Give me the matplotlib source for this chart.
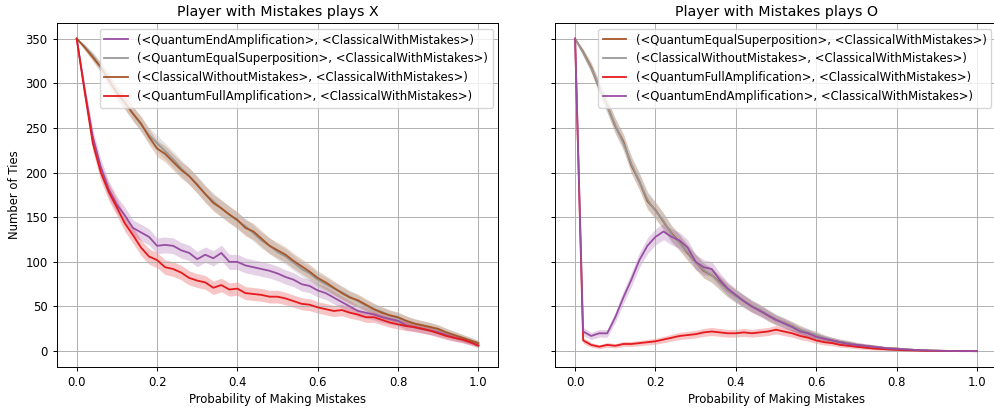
import numpy as np
import matplotlib
matplotlib.use("Agg")
import matplotlib.pyplot as plt

# ---------------- data ----------------
prob = [round(i * 0.02, 2) for i in range(51)]

# Panel 1: player with mistakes plays X
x_end_amp = [350, 292, 240, 206, 181, 164, 152, 138, 133, 128, 118, 119, 118, 113, 110, 103, 108, 104, 110, 100,
             100, 96, 94, 92, 90, 87, 83, 80, 75, 73, 68, 65, 60, 55, 50, 45, 43, 41, 38, 36,
             34, 29, 27, 25, 23, 21, 18, 15, 13, 10, 7]
x_equal_sup = [350, 341, 331, 318, 305, 290, 279, 266, 254, 242, 233, 224, 215, 205, 196, 187, 176, 168, 160, 153,
               146, 140, 132, 124, 118, 111, 106, 99, 92, 87, 80, 75, 70, 66, 61, 56, 51, 47, 44, 40,
               37, 34, 31, 29, 27, 24, 21, 18, 15, 12, 9]
x_classical = [350, 340, 329, 318, 303, 289, 278, 266, 255, 240, 227, 221, 212, 203, 196, 186, 176, 166, 160, 153,
               147, 138, 134, 126, 118, 113, 108, 101, 95, 89, 82, 77, 71, 65, 60, 57, 52, 47, 43, 40,
               38, 34, 31, 29, 27, 25, 21, 18, 15, 12, 9]
x_full_amp = [350, 290, 233, 200, 178, 161, 143, 130, 116, 106, 102, 94, 92, 88, 82, 79, 77, 71, 74, 69,
              70, 65, 64, 63, 61, 61, 59, 56, 53, 52, 49, 47, 45, 46, 43, 41, 38, 38, 35, 32,
              30, 28, 27, 25, 23, 20, 17, 15, 13, 10, 6]

# Panel 2: player with mistakes plays O
o_equal_sup = [350, 335, 318, 295, 275, 252, 235, 208, 190, 168, 158, 145, 132, 122, 110, 100, 90, 85, 77, 68,
               62, 56, 50, 46, 40, 35, 32, 28, 24, 20, 18, 14, 12, 10, 9, 7, 6, 5, 4, 3,
               3, 2, 1.5, 1, 0.7, 0.5, 0.3, 0.2, 0.1, 0.05, 0]
o_classical = [350, 334, 317, 296, 274, 253, 233, 210, 190, 170, 157, 146, 131, 121, 111, 100, 91, 85, 76, 68,
               61, 56, 51, 46, 41, 36, 32, 28, 24, 21, 18, 15, 12, 10, 9, 7, 6, 5, 4, 3,
               2.5, 2, 1.5, 1, 0.7, 0.5, 0.3, 0.2, 0.1, 0.05, 0]
o_full_amp = [350, 12, 7, 5, 7, 6, 8, 8, 9, 10, 11, 13, 15, 17, 18, 19, 21, 22, 21, 20,
              20, 21, 20, 21, 22, 24, 22, 20, 17, 15, 12, 10, 9, 7, 6, 5, 4, 3, 2.5, 2,
              1.5, 1, 0.8, 0.5, 0.3, 0.2, 0.1, 0.1, 0, 0, 0]
o_end_amp = [350, 22, 17, 20, 20, 38, 60, 80, 102, 118, 128, 134, 128, 124, 116, 100, 94, 92, 80, 70,
             63, 56, 50, 45, 40, 35, 31, 27, 22, 20, 16, 14, 12, 10, 8, 7, 6, 5, 4, 3,
             2.5, 2, 1.5, 1, 0.7, 0.5, 0.3, 0.2, 0.1, 0.05, 0]

lbl_end = "(<QuantumEndAmplification>, <ClassicalWithMistakes>)"
lbl_equal = "(<QuantumEqualSuperposition>, <ClassicalWithMistakes>)"
lbl_class = "(<ClassicalWithoutMistakes>, <ClassicalWithMistakes>)"
lbl_full = "(<QuantumFullAmplification>, <ClassicalWithMistakes>)"

PURPLE = "#984ea3"
GRAY = "#999999"
BROWN = "#a65628"
RED = "#e41a1c"

panel_x = [(x_end_amp, lbl_end, PURPLE), (x_equal_sup, lbl_equal, GRAY),
           (x_classical, lbl_class, BROWN), (x_full_amp, lbl_full, RED)]
panel_o = [(o_equal_sup, lbl_equal, BROWN), (o_classical, lbl_class, GRAY),
           (o_full_amp, lbl_full, RED), (o_end_amp, lbl_end, PURPLE)]

N_GAMES = 350
CI_K = 1.0
FS = 8.4

plt.rcParams.update({
    "axes.linewidth": 0.7,
    "xtick.major.width": 0.7,
    "ytick.major.width": 0.7,
    "xtick.major.size": 3.0,
    "ytick.major.size": 3.0,
    "xtick.labelsize": FS,
    "ytick.labelsize": FS,
})

fig = plt.figure(figsize=(9.95, 4.08), dpi=100)
ax1 = fig.add_axes([0.0569, 0.1005, 0.4441, 0.8431])
ax2 = fig.add_axes([0.5578, 0.1005, 0.4442, 0.8431], sharey=ax1)

x = np.array(prob)
for ax, series, title in [(ax1, panel_x, "Player with Mistakes plays X"),
                          (ax2, panel_o, "Player with Mistakes plays O")]:
    for vals, lbl, col in series:
        m = np.array(vals, dtype=float)
        hw = CI_K * np.sqrt(np.clip(m * (1 - m / N_GAMES), 0, None))
        ax.fill_between(x, m - hw, m + hw, color=col, alpha=0.25, linewidth=0)
        ax.plot(x, m, color=col, linewidth=1.3, label=lbl)
    ax.set_title(title, fontsize=10.2, pad=5)
    ax.set_xlabel("Probability of Making Mistakes", fontsize=FS, labelpad=3)
    ax.grid(True, color="#b0b0b0", linewidth=0.7)
    ax.legend(loc="upper right", fontsize=FS)
    ax.set_xticks([0.0, 0.2, 0.4, 0.6, 0.8, 1.0])

ax1.set_ylabel("Number of Ties", fontsize=FS, labelpad=3)
ax1.set_yticks([0, 50, 100, 150, 200, 250, 300, 350])
plt.setp(ax2.get_yticklabels(), visible=False)

fig.savefig("out.png", dpi=100)
